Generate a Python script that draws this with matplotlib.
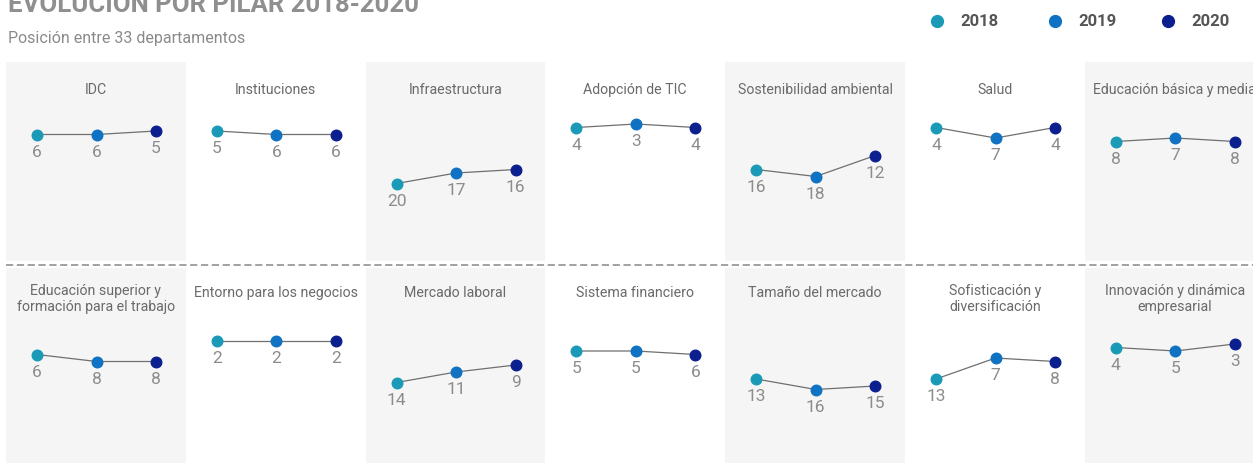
import matplotlib
matplotlib.use("Agg")
import matplotlib.pyplot as plt
from matplotlib.lines import Line2D

FAM = ['Roboto', 'DejaVu Sans']
plt.rcParams['font.family'] = FAM

# ---------------- data ----------------
years = ["2018", "2019", "2020"]
pillars_top = ["IDC", "Instituciones", "Infraestructura", "Adopción de TIC",
               "Sostenibilidad ambiental", "Salud", "Educación básica y media"]
values_top = [[6, 6, 5], [5, 6, 6], [20, 17, 16], [4, 3, 4],
              [16, 18, 12], [4, 7, 4], [8, 7, 8]]
pillars_bottom = ["Educación superior y\nformación para el trabajo",
                  "Entorno para los negocios", "Mercado laboral",
                  "Sistema financiero", "Tamaño del mercado",
                  "Sofisticación y\ndiversificación",
                  "Innovación y dinámica\nempresarial"]
values_bottom = [[6, 8, 8], [2, 2, 2], [14, 11, 9], [5, 5, 6],
                 [13, 16, 15], [13, 7, 8], [4, 5, 3]]
title = "EVOLUCIÓN POR PILAR 2018-2020"
subtitle = "Posición entre 33 departamentos"

# ---------------- style ----------------
colors = ['#1b9ab8', '#0f72c2', '#0c1f8f']
W, H = 1253, 464
DPI = 100
fig = plt.figure(figsize=(W / DPI, H / DPI), dpi=DPI)
fig.patch.set_facecolor('white')

col_x0 = 6.0
col_w = 179.8
pt_off = 31.0      # px from column left to first point
pt_step = 59.5     # px between points
px_per_rank = 3.5

rows = [
    dict(top=63, bottom=262, zero=114.5, tcy=90, names=pillars_top, vals=values_top),
    dict(top=269, bottom=464, zero=334.5, tcy=293, names=pillars_bottom, vals=values_bottom),
]


def fx(px):
    return px / W


def fy(py):
    return 1 - py / H


for r in rows:
    for i, (name, vals) in enumerate(zip(r['names'], r['vals'])):
        left = col_x0 + i * col_w
        ax = fig.add_axes([fx(left), fy(r['bottom']), col_w / W,
                           (r['bottom'] - r['top']) / H])
        ax.set_facecolor('#f5f5f5' if i % 2 == 0 else 'white')
        for s in ax.spines.values():
            s.set_visible(False)
        ax.set_xticks([])
        ax.set_yticks([])
        ax.set_xlim(-pt_off / pt_step, (col_w - pt_off) / pt_step)
        ax.set_ylim((r['bottom'] - r['zero']) / px_per_rank,
                    (r['top'] - r['zero']) / px_per_rank)
        xs = list(range(len(vals)))
        ax.plot(xs, vals, color='#6f6f6f', lw=0.9, zorder=2)
        for x, v, c in zip(xs, vals, colors):
            ax.plot([x], [v], 'o', ms=7.6, color=c, mec=c, zorder=3)
            ax.annotate(str(v), (x, v), xytext=(0, -6.5),
                        textcoords='offset points', ha='center', va='top',
                        fontsize=12.5, color='#8c8c8c', family=FAM)
        nlines = name.count('\n') + 1
        tcy = r['tcy'] + 6 * (nlines - 1)
        fig.text(fx(left + col_w / 2), fy(tcy), name, ha='center', va='center',
                 fontsize=10.2, color='#6a6a6a', linespacing=1.25, family=FAM)

# dashed separator
fig.add_artist(Line2D([fx(6), fx(1253)], [fy(266), fy(266)], color='#9a9a9a',
                      lw=1.3, ls=(0, (4, 2))))

# title & subtitle
fig.text(fx(8), fy(12), title, ha='left', va='baseline', fontsize=18.5,
         fontweight='bold', color='#8f8f8f', family=FAM)
fig.text(fx(8), fy(38), subtitle, ha='left', va='center', fontsize=11.5,
         color='#8a8a8a', family=FAM)

# legend
leg_x = [937, 1055, 1168]
for lx, yr, c in zip(leg_x, years, colors):
    fig.add_artist(Line2D([fx(lx)], [fy(22)], marker='o', ms=8.5, color=c,
                          mec=c, ls='none'))
    fig.text(fx(lx + 23), fy(22), yr, ha='left', va='center', fontsize=12,
             fontweight='bold', color='#555555', family=FAM)

fig.savefig('out.png', dpi=DPI)
